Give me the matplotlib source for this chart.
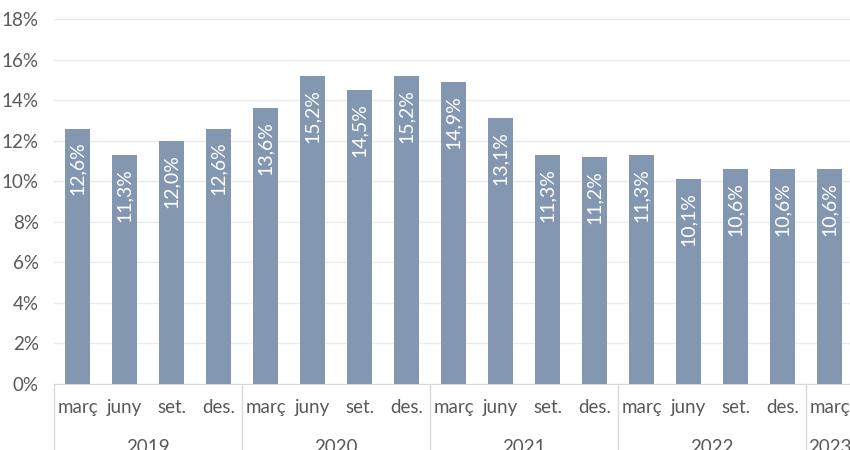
import matplotlib.pyplot as plt
from matplotlib.transforms import blended_transform_factory

plt.rcParams['font.family'] = ['Lato', 'DejaVu Sans']

months = ['març', 'juny', 'set.', 'des.'] * 4 + ['març']
years = ['2019', '2020', '2021', '2022', '2023']
year_sizes = [4, 4, 4, 4, 1]
values = [12.6, 11.3, 12.0, 12.6, 13.6, 15.2, 14.5, 15.2,
          14.9, 13.1, 11.3, 11.2, 11.3, 10.1, 10.6, 10.6, 10.6]

bar_color = '#8497B0'
text_color = '#595959'
line_color = '#D9D9D9'

fig = plt.figure(figsize=(8.5, 4.5), dpi=100)
ax = fig.add_axes([54 / 850, 1 - 384 / 450, 799 / 850, 365 / 450])

x = list(range(len(values)))
ax.bar(x, values, width=0.52, color=bar_color, zorder=3)

for i, v in enumerate(values):
    label = f'{v:.1f}'.replace('.', ',') + '%'
    ax.text(i, v - 0.65, label, rotation=90, ha='center', va='top',
            color='white', fontsize=14, zorder=4)

ax.set_xlim(-0.5, len(values) - 0.5)
ax.set_ylim(0, 18)
ax.set_yticks(range(0, 19, 2))
ax.set_yticklabels([f'{t}%' for t in range(0, 19, 2)])
ax.yaxis.grid(True, color='#EBEBEB', linewidth=1, zorder=0)

ax.set_xticks(x)
ax.set_xticklabels(months)
ax.tick_params(axis='both', length=0, labelsize=13.5, colors=text_color)
ax.tick_params(axis='x', pad=11)
ax.tick_params(axis='y', pad=11)

for side in ['top', 'right', 'left']:
    ax.spines[side].set_visible(False)
ax.spines['bottom'].set_color(line_color)

# group separators and year labels under the axis
trans = blended_transform_factory(ax.transData, ax.transAxes)
start = 0
for year, size in zip(years, year_sizes):
    ax.plot([start - 0.5, start - 0.5], [0, -0.25], transform=trans,
            color=line_color, linewidth=1, clip_on=False)
    ax.text(start + (size - 1) / 2, -0.175, year, transform=trans,
            ha='center', va='center', fontsize=13.5, color=text_color)
    start += size
ax.plot([start - 0.5, start - 0.5], [0, -0.25], transform=trans,
        color=line_color, linewidth=1, clip_on=False)

fig.savefig('out.png', dpi=100)
